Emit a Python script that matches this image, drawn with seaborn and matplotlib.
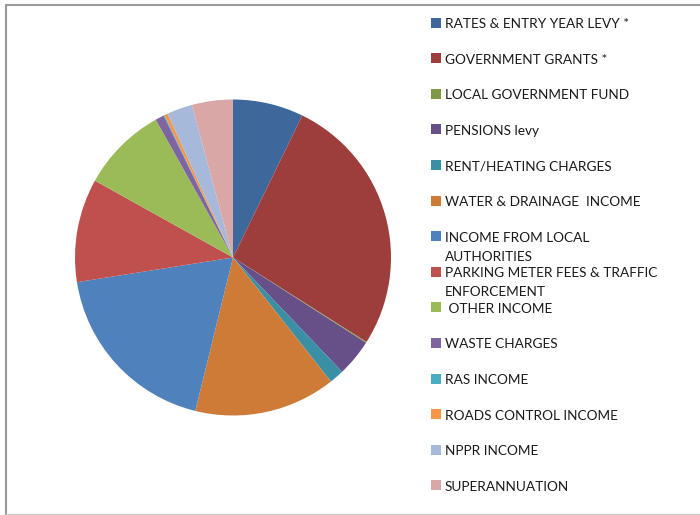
import matplotlib
matplotlib.use('Agg')
import matplotlib.pyplot as plt
import seaborn as sns
from matplotlib.patches import Rectangle
from matplotlib.lines import Line2D

categories = ['RATES & ENTRY YEAR LEVY *', 'GOVERNMENT GRANTS *', 'LOCAL GOVERNMENT FUND',
              'PENSIONS levy', 'RENT/HEATING CHARGES', 'WATER & DRAINAGE  INCOME',
              'INCOME FROM LOCAL\nAUTHORITIES', 'PARKING METER FEES & TRAFFIC\nENFORCEMENT',
              ' OTHER INCOME', 'WASTE CHARGES', 'RAS INCOME', 'ROADS CONTROL INCOME',
              'NPPR INCOME', 'SUPERANNUATION']
shares = [7.24, 26.8, 0.1, 3.8, 1.5, 14.5, 18.7, 10.6, 8.8, 0.9, 0.1, 0.35, 2.6, 4.2]
colours = ['#3E679C', '#9E3E3C', '#7E9A47', '#674F87', '#3B8FA5', '#CF7B38',
           '#4F81BD', '#C0504D', '#9BBB59', '#8064A2', '#4BACC6', '#F79646',
           '#A7B9DA', '#D9A7A6']

sns.set_theme(style='white')
plt.rcParams['font.family'] = ['Lato', 'DejaVu Sans']
pal = sns.color_palette(colours)

fig = plt.figure(figsize=(7, 5.15), dpi=100)
W, H = 700, 515

# pie area: centre (233, 257.5), radius 158 px
ax = fig.add_axes([(233 - 158) / W, (H - 257.5 - 158) / H, 316 / W, 316 / H])
ax.pie(shares, colors=pal, startangle=90, counterclock=False,
       wedgeprops=dict(linewidth=0))
ax.set_xlim(-1, 1); ax.set_ylim(-1, 1); ax.set_aspect('equal')
ax.axis('off')

# legend drawn by hand so the wrapped entries overflow like the original
y0, step = 22.5, 35.6
for i, (lab, c) in enumerate(zip(categories, pal)):
    yc = y0 + i * step
    fig.add_artist(Rectangle((431 / W, 1 - (yc + 5) / H), 10 / W, 10 / H,
                             transform=fig.transFigure, color=c, lw=0))
    for j, line in enumerate(lab.split('\n')):
        fig.text(445 / W, 1 - (yc + 1.5 + j * 19) / H, line, fontsize=9.8,
                 color='#1a1a1a', va='center')

# chart frame edges
fig.add_artist(Line2D([5.5 / W, 1], [1 - 4.5 / H] * 2, transform=fig.transFigure,
                      color='#999999', lw=1.5))
fig.add_artist(Line2D([5.5 / W] * 2, [0, 1 - 4.5 / H], transform=fig.transFigure,
                      color='#999999', lw=1.5))
fig.add_artist(Line2D([5.5 / W, 1], [1 - 514 / H] * 2, transform=fig.transFigure,
                      color='#cccccc', lw=1))

plt.savefig('out.png', dpi=100)
